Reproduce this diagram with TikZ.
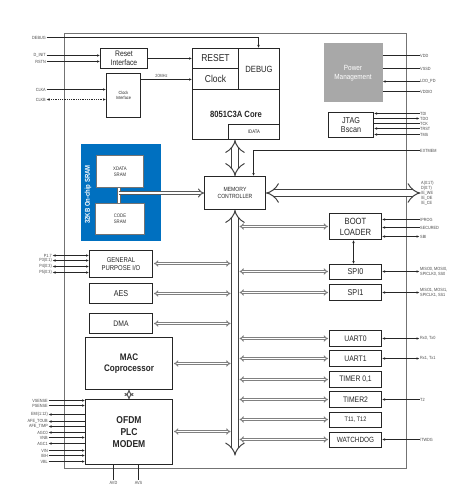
\documentclass[tikz,border=0pt]{standalone}
\usepackage{fontspec}
\setmainfont{Liberation Sans}[FakeStretch=0.85]
\usetikzlibrary{arrows.meta}
\definecolor{sramblue}{RGB}{0,112,192}
\definecolor{pmgray}{RGB}{168,168,168}
\begin{document}
\begin{tikzpicture}[x=1pt,y=-1pt,
 box/.style={draw=black!85, line width=1pt, fill=white, inner sep=0pt, align=center, text=black!85},
 sbox/.style={draw=black!55, line width=1pt, fill=white, inner sep=0pt, align=center, text=black!80},
 pinl/.style={font=\fontsize{4.5}{5}\selectfont, text=black!70, inner sep=0.5pt, anchor=east, align=right},
 pinr/.style={font=\fontsize{4.5}{5}\selectfont, text=black!70, inner sep=0.5pt, anchor=west, align=left},
 wire/.style={draw=black!85, line width=0.8pt},
 tip/.style={-{Latex[length=3pt,width=2.6pt]}},
 tipb/.style={{Latex[length=3pt,width=2.6pt]}-{Latex[length=3pt,width=2.6pt]}},
 tipr/.style={{Latex[length=3pt,width=2.6pt]}-},
 bigbus/.style={draw=black!75, double=white, double distance=6pt, line width=1pt, {Implies[length=6pt,width=15pt]}-{Implies[length=6pt,width=15pt]}},
 thinbus/.style={draw=black!50, double=white, double distance=1pt, line width=1pt, {Implies[length=3pt,width=7pt]}-{Implies[length=3pt,width=7pt]}},
 srarrow/.style={draw=black!65, double=white, double distance=2pt, line width=1pt, -{Implies[length=3.5pt,width=8pt]}},
]
\useasboundingbox (-0.5,-0.5) rectangle (464.5,496.5);
\fill[white] (-0.5,-0.5) rectangle (464.5,496.5);
% outer frame
\draw[black!55, line width=1pt] (64,33) rectangle (406,468);

% ---- top left
\node[box, minimum width=47pt, minimum height=20pt, font=\fontsize{8}{8.5}\selectfont] (reset) at (123.5,58) {Reset\\Interface};
\node[box, minimum width=34pt, minimum height=44pt, font=\fontsize{4.5}{5.5}\selectfont] (clkif) at (123,95) {Clock\\Interface};

% ---- 8051 core
\node[box, minimum width=87pt, minimum height=91pt] (core) at (235.5,93.5) {};
\node[box, minimum width=46pt, minimum height=20pt, font=\fontsize{10}{11}\selectfont] (resetc) at (215,58) {RESET};
\node[box, minimum width=46pt, minimum height=21pt, font=\fontsize{10}{11}\selectfont] (clockc) at (215,78.5) {Clock};
\node[box, minimum width=41pt, minimum height=41pt, font=\fontsize{9}{10}\selectfont] (debugc) at (258.5,68.5) {DEBUG};
\node[font=\fontsize{9}{10}\selectfont\bfseries, text=black!85] (corelbl) at (235.5,114) {8051C3A Core};
\node[box, minimum width=51pt, minimum height=15pt, font=\fontsize{5}{6}\selectfont] (idata) at (253.5,131.5) {IDATA};

% ---- power / jtag
\node[fill=pmgray, minimum width=59pt, minimum height=59pt, inner sep=0pt, align=center, text=white, font=\fontsize{7.5}{9}\selectfont] (pm) at (352.5,72.5) {Power\\Management};
\node[box, minimum width=45pt, minimum height=25pt, font=\fontsize{8.5}{9.5}\selectfont] (jtag) at (350.5,124.5) {JTAG\\Bscan};

% ---- memory controller and SRAM
\node[box, minimum width=61pt, minimum height=33pt, font=\fontsize{6}{7}\selectfont] (mc) at (234.5,192.5) {MEMORY\\CONTROLLER};
\node[fill=sramblue, minimum width=80pt, minimum height=96pt, inner sep=0pt] (sram) at (120,192) {};
\node[rotate=90, text=white, font=\fontsize{7}{8}\selectfont\bfseries] (sramlbl) at (87.5,194) {32KB On-chip SRAM};
\node[sbox, minimum width=47pt, minimum height=32pt, font=\fontsize{5}{6}\selectfont] (xdata) at (119.5,171) {XDATA\\SRAM};
\node[sbox, minimum width=49pt, minimum height=31pt, font=\fontsize{5}{6}\selectfont] (code) at (119.5,218.5) {CODE\\SRAM};

% ---- left peripherals
\node[box, minimum width=63pt, minimum height=27pt, font=\fontsize{7}{8}\selectfont] (gpio) at (120.5,263.5) {GENERAL\\PURPOSE I/O};
\node[box, minimum width=63pt, minimum height=20pt, font=\fontsize{8.5}{9}\selectfont] (aes) at (120.5,293) {AES};
\node[box, minimum width=63pt, minimum height=20pt, font=\fontsize{8}{9}\selectfont] (dma) at (120.5,323) {DMA};
\node[box, minimum width=87pt, minimum height=52pt, font=\fontsize{9.5}{11.5}\selectfont\bfseries] (mac) at (128.5,363) {MAC\\Coprocessor};
\node[box, minimum width=87pt, minimum height=65pt, font=\fontsize{10}{12}\selectfont\bfseries] (ofdm) at (128.5,431.5) {OFDM\\PLC\\MODEM};

% ---- right peripherals
\node[box, minimum width=52pt, minimum height=26pt, font=\fontsize{9}{11}\selectfont] (boot) at (355,226) {BOOT\\LOADER};
\node[box, minimum width=52pt, minimum height=15pt, font=\fontsize{8.5}{9}\selectfont] (spi0) at (355,271.5) {SPI0};
\node[box, minimum width=52pt, minimum height=16pt, font=\fontsize{8.5}{9}\selectfont] (spi1) at (355,292) {SPI1};
\node[box, minimum width=52pt, minimum height=16pt, font=\fontsize{8}{9}\selectfont] (uart0) at (355,338) {UART0};
\node[box, minimum width=52pt, minimum height=16pt, font=\fontsize{8}{9}\selectfont] (uart1) at (355,358) {UART1};
\node[box, minimum width=52pt, minimum height=16pt, font=\fontsize{8}{9}\selectfont] (timer01) at (355,379) {TIMER 0,1};
\node[box, minimum width=52pt, minimum height=16pt, font=\fontsize{8}{9}\selectfont] (timer2) at (355,399) {TIMER2};
\node[box, minimum width=52pt, minimum height=15pt, font=\fontsize{6.5}{7}\selectfont] (t11) at (355,419.5) {T11, T12};
\node[box, minimum width=52pt, minimum height=15pt, font=\fontsize{7.5}{8}\selectfont] (wdog) at (355,439.5) {WATCHDOG};

% ---- bus reference coordinates
\coordinate (busL) at (230,0);
\coordinate (busR) at (239,0);
\coordinate (busend) at (234.5,455);
\coordinate (barmid) at (118,192.5);

% ---- pin labels (left)
\node[pinl] (debug) at (46,37) {DEBUG};
\node[pinl] (dinit) at (46,55) {D\_INIT};
\node[pinl] (rstn) at (46,61) {RSTN};
\node[pinl] (clka) at (46,89) {CLKA};
\node[pinl] (clkb) at (46,99) {CLKB};
\node[pinl] (p17) at (52,255) {P1.7};
\node[pinl] (p3) at (52,260) {P3(0:1)};
\node[pinl] (p4) at (52,266) {P4(0:3)};
\node[pinl] (p5) at (52,272) {P5(0:3)};
\node[pinl] (vsense) at (48,400) {VSENSE};
\node[pinl] (psense) at (48,405) {PSENSE};
\node[pinl] (emi) at (48,414) {EMI(1:12)};
\node[pinl] (afeo) at (48,421) {AFE\_TOUB};
\node[pinl] (afei) at (48,426) {AFE\_TIMP};
\node[pinl] (agc0) at (48,432) {AGC0};
\node[pinl] (vnb) at (48,437) {VNB};
\node[pinl] (agc1) at (48,443) {AGC1};
\node[pinl] (vin) at (48,450) {VIN};
\node[pinl] (ibh) at (48,455) {IBH};
\node[pinl] (vbl) at (48,461) {VBL};
\node[font=\fontsize{4.5}{5}\selectfont, text=black!70, inner sep=0.5pt] (avd) at (113,482) {AVD};
\node[font=\fontsize{4.5}{5}\selectfont, text=black!70, inner sep=0.5pt] (avs) at (138,482) {AVS};
\node[font=\fontsize{4.5}{5}\selectfont, text=black!70, inner sep=0.5pt] (mhz) at (161,75) {20MHz};

% ---- pin labels (right)
\node[pinr] (vdd) at (419,55) {VDD};
\node[pinr] (vssd) at (419,68) {VSSD};
\node[pinr] (ldo) at (419,81) {LDO\_PD};
\node[pinr] (vddio) at (419,91) {VDDIO};
\node[pinr] (tdi) at (419,113) {TDI};
\node[pinr] (tdo) at (419,118) {TDO};
\node[pinr] (tck) at (419,123) {TCK};
\node[pinr] (trst) at (419,128) {TRST};
\node[pinr] (tms) at (419,134) {TMS};
\node[pinr] (extmem) at (419,150) {EXTMEM};
\node[pinr, font=\fontsize{4.5}{5}\selectfont] (addr) at (420,192.5) {A(0:17)\\D(0:7)\\/E\_WE\\/E\_OE\\/E\_CE};
\node[pinr] (prog) at (419,219) {/PROG};
\node[pinr] (secured) at (419,227) {SECURED};
\node[pinr] (sbi) at (419,236) {SBI};
\node[pinr] (spi0p) at (419,271) {MISO0, MOSI0,\\SPICLK0, SS0};
\node[pinr] (spi1p) at (419,292) {MISO1, MOSI1,\\SPICLK1, SS1};
\node[pinr] (u0p) at (419,338) {Rx0, Tx0};
\node[pinr] (u1p) at (419,358) {Rx1, Tx1};
\node[pinr] (t2p) at (419,399) {T2};
\node[pinr] (wdp) at (419,439) {/TWDG};

% ---- top-left connectors
\draw[wire,tip] (debug.east) -| ([xshift=-0.5pt]debugc.north);
\draw[wire,tip] (dinit.east) -- (dinit.east -| reset.west);
\draw[wire,tip] (rstn.east) -- (rstn.east -| reset.west);
\draw[wire,tip] (reset.east) -- (resetc.west);
\draw[wire,tip] ([yshift=-0.5pt]clkif.east |- clockc.west) -- ([yshift=-0.5pt]clockc.west);
\draw[wire,tip] (clka.east) -- (clka.east -| clkif.west);
\draw[wire,densely dotted,tipb] (clkb.east) -- (clkb.east -| clkif.west);

% ---- power / jtag
\draw[wire] (pm.east |- vdd.west) -- (vdd.west);
\draw[wire] (pm.east |- vssd.west) -- (vssd.west);
\draw[wire,tipr] (pm.east |- ldo.west) -- (ldo.west);
\draw[wire] (pm.east |- vddio.west) -- (vddio.west);
\draw[wire,tipr] (jtag.east |- tdi.west) -- (tdi.west);
\draw[wire,tip] (jtag.east |- tdo.west) -- (tdo.west);
\draw[wire] (jtag.east |- tck.west) -- (tck.west);
\draw[wire,tipr] (jtag.east |- trst.west) -- (trst.west);
\draw[wire,tipr] (jtag.east |- tms.west) -- (tms.west);

% ---- memory paths
\draw[wire,tip] (extmem.west) -| ([xshift=18.5pt]mc.north);
\draw[bigbus] (mc.east) -- (addr.west);
\draw[bigbus] (mc.north) -- (mc.north |- idata.south);
\draw[bigbus] (mc.south) -- (busend);
\draw[draw=black!60, double=white, double distance=2pt, line width=1pt] ([xshift=-1.5pt]xdata.south) -- ([xshift=-1.5pt]code.north);
\draw[srarrow] (barmid) -- (mc.west);

% ---- left peripherals to bus
\draw[thinbus, shorten <=1pt] ([yshift=0.5pt]gpio.east) -- ([yshift=0.5pt]gpio.east -| busL);
\draw[thinbus, shorten <=1pt] (aes.east) -- (aes.east -| busL);
\draw[thinbus, shorten <=1pt] (dma.east) -- (dma.east -| busL);
\draw[thinbus, shorten <=1pt] (mac.east) -- (mac.east -| busL);
\draw[thinbus, shorten <=1pt] ([yshift=0.5pt]ofdm.east) -- ([yshift=0.5pt]ofdm.east -| busL);
\draw[draw=black!65, double=white, double distance=2pt, line width=1pt, {Implies[length=2.5pt,width=6pt]}-{Implies[length=2.5pt,width=6pt]}] (mac.south) -- (ofdm.north);

% ---- right peripherals to bus
\foreach \n in {boot,spi1,uart0,uart1,timer01,timer2}
  \draw[thinbus, shorten >=1pt] (\n.west -| busR) -- (\n.west);
\foreach \n in {spi0,t11,wdog}
  \draw[thinbus, shorten >=1pt] ([yshift=0.5pt]\n.west -| busR) -- ([yshift=0.5pt]\n.west);
\draw[wire,tipb] ([xshift=-2pt]boot.south) -- ([xshift=-2pt]spi0.north);

% ---- right peripheral pins
\draw[wire,tipr] (boot.east |- prog.west) -- (prog.west);
\draw[wire,tipr] (boot.east |- secured.west) -- (secured.west);
\draw[wire,tipb] (boot.east |- sbi.west) -- (sbi.west);
\draw[wire,tipb] (spi0.east |- spi0p.west) -- (spi0p.west);
\draw[wire,tipb] (spi1.east) -- (spi1p.west);
\draw[wire,tipb] (uart0.east) -- (u0p.west);
\draw[wire,tipb] (uart1.east) -- (u1p.west);
\draw[wire,tipr] (timer2.east) -- (t2p.west);
\draw[wire,tipr] (wdog.east |- wdp.west) -- (wdp.west);

% ---- left peripheral pins
\foreach \n in {p17,p3,p4,p5}
  \draw[wire,tipb] (\n.east) -- (\n.east -| gpio.west);
\foreach \n in {vsense,psense,vnb,vin,ibh,vbl}
  \draw[wire,tip] (\n.east) -- (\n.east -| ofdm.west);
\foreach \n in {emi,afeo,afei,agc0,agc1}
  \draw[wire,tipr] (\n.east) -- (\n.east -| ofdm.west);
\draw[wire] (ofdm.south -| avd.north) -- (avd.north);
\draw[wire] (ofdm.south -| avs.north) -- (avs.north);
\end{tikzpicture}
\end{document}
